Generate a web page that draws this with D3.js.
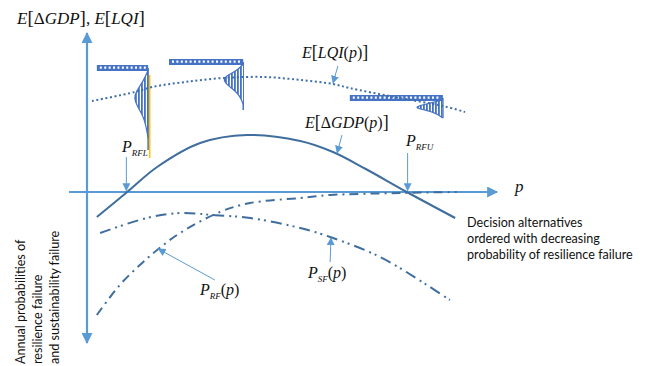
<!DOCTYPE html>
<html lang="en">
<head>
<meta charset="UTF-8"/>
<title>Resilience and sustainability failure</title>
<script src="https://d3js.org/d3.v7.min.js"></script>
<style>
  body { margin: 0; background: #fff; }
  .math { font-family: "Liberation Serif", "Times New Roman", serif; font-size: 16px; fill: #111; }
  .note { font-family: Lato, "Open Sans", sans-serif; font-size: 12.6px; fill: #111; }
</style>
</head>
<body>
<script>
var w = 646;
var h = 366;

// decision alternatives p (0..100 along the horizontal axis)
var lqiP   = [1.2, 11.7, 15.9, 23.9, 33.2, 43.4, 52, 60, 64, 75, 86.8, 92.2];
var lqiVal = [0.91, 1.00, 1.05, 1.10, 1.14, 1.15, 1.12, 1.08, 1.04, 0.95, 0.86, 0.80];

var gdpP   = [2.4, 9.8, 17.1, 27.6, 39, 52, 60, 68, 78, 89.8];
var gdpVal = [-0.25, 0, 0.25, 0.49, 0.57, 0.51, 0.40, 0.23, 0, -0.26];

var rfP   = [2.4, 8, 12.9, 17.1, 22.7, 32.4, 39.8, 52, 59.3, 76.3, 90.2];
var rfVal = [-1.23, -0.93, -0.73, -0.58, -0.41, -0.20, -0.11, -0.06, -0.03, -0.01, 0];

var sfP   = [3.2, 14.6, 22.7, 30.7, 39.8, 52, 59.3, 71.5, 82.9, 88.5];
var sfVal = [-0.41, -0.26, -0.21, -0.23, -0.26, -0.36, -0.45, -0.65, -0.93, -1.08];

// LQI distributions drawn at three alternatives
var glyphAt      = [14.9, 38.1, 86.8];
var glyphBarFrom = [2.4, 20, 64.1];
var glyphBarY    = [1.24, 1.30, 0.94];
var glyphLineEnd = [0.42, 0.82, 0.74];
var glyphShapeP = [
    [14.9, 13.9, 11.9, 11.5, 12.2, 13.7, 14.4, 14.9],
    [38.1, 36.8, 34.4, 33.2, 33.9, 35.9, 37.3, 38.1],
    [86.8, 83.7, 80.7, 80.2, 82.4, 85.1, 86.8]
];
var glyphShapeV = [
    [1.22, 1.12, 1.00, 0.94, 0.86, 0.76, 0.66, 0.54],
    [1.28, 1.22, 1.17, 1.13, 1.08, 1.02, 0.96, 0.88],
    [0.92, 0.89, 0.86, 0.84, 0.82, 0.79, 0.74]
];

var pRFL = 9.6;
var pRFU = 78.2;

var xScale = d3.scaleLinear().domain([0, 100]).range([87, 497]);
var yScale = d3.scaleLinear().domain([-1.5, 1.6]).range([342, 32]);

var svg = d3.select("body")
    .append("svg")
    .attr("width", w)
    .attr("height", h);

var defs = svg.append("defs");
defs.append("marker")
    .attr("id", "axisHead")
    .attr("viewBox", "0 0 10 10")
    .attr("refX", 9).attr("refY", 5)
    .attr("markerWidth", 5.5).attr("markerHeight", 5)
    .attr("markerUnits", "strokeWidth")
    .attr("orient", "auto")
    .append("path").attr("d", "M0,0 L10,5 L0,10 z").attr("fill", "#5b9bd5");
defs.append("marker")
    .attr("id", "noteHead")
    .attr("viewBox", "0 0 10 10")
    .attr("refX", 9).attr("refY", 5)
    .attr("markerWidth", 8).attr("markerHeight", 8)
    .attr("markerUnits", "strokeWidth")
    .attr("orient", "auto")
    .append("path").attr("d", "M0,0 L10,5 L0,10 z").attr("fill", "#5b9bd5");
var pat = defs.append("pattern")
    .attr("id", "stripes")
    .attr("patternUnits", "userSpaceOnUse")
    .attr("width", 3).attr("height", 10);
pat.append("rect").attr("width", 3).attr("height", 10).attr("fill", "#fff");
pat.append("rect").attr("width", 1.8).attr("height", 10).attr("fill", "#4472c4");

// axes
svg.append("line")
    .attr("x1", xScale(-4.4)).attr("x2", xScale(100))
    .attr("y1", yScale(0)).attr("y2", yScale(0))
    .attr("stroke", "#5b9bd5").attr("stroke-width", 2.2)
    .attr("marker-end", "url(#axisHead)");
svg.append("line")
    .attr("x1", xScale(0)).attr("x2", xScale(0))
    .attr("y1", yScale(0)).attr("y2", yScale(1.59))
    .attr("stroke", "#5b9bd5").attr("stroke-width", 2.2)
    .attr("marker-end", "url(#axisHead)");
svg.append("line")
    .attr("x1", xScale(0)).attr("x2", xScale(0))
    .attr("y1", yScale(0)).attr("y2", yScale(-1.51))
    .attr("stroke", "#5b9bd5").attr("stroke-width", 2.2)
    .attr("marker-end", "url(#axisHead)");

var line = d3.line()
    .x(function (d) { return xScale(d[0]); })
    .y(function (d) { return yScale(d[1]); })
    .curve(d3.curveCatmullRom.alpha(0.5));

function pairs(ps, vs) {
    return ps.map(function (p, i) { return [p, vs[i]]; });
}

// distribution glyphs
glyphAt.forEach(function (p, i) {
    var g = svg.append("g");
    if (i == 0) {
        g.append("line")
            .attr("x1", xScale(p) + 1.6).attr("x2", xScale(p) + 1.6)
            .attr("y1", yScale(1.17)).attr("y2", yScale(0.34))
            .attr("stroke", "#ffc000").attr("stroke-width", 1.5);
    }
    g.append("line")
        .attr("x1", xScale(p)).attr("x2", xScale(p))
        .attr("y1", yScale(glyphBarY[i])).attr("y2", yScale(glyphLineEnd[i]))
        .attr("stroke", "#4472c4").attr("stroke-width", 1.5);
    g.append("path")
        .attr("d", d3.line()
            .x(function (d) { return xScale(d[0]); })
            .y(function (d) { return yScale(d[1]); })
            .curve(d3.curveBasis)(pairs(glyphShapeP[i], glyphShapeV[i])))
        .attr("fill", "url(#stripes)")
        .attr("stroke", "#4472c4").attr("stroke-width", 1.2);
    g.append("rect")
        .attr("x", xScale(glyphBarFrom[i]))
        .attr("y", yScale(glyphBarY[i]) - 3)
        .attr("width", xScale(p) - xScale(glyphBarFrom[i]))
        .attr("height", 6)
        .attr("fill", "#4472c4");
    g.append("line")
        .attr("x1", xScale(glyphBarFrom[i]) + 3).attr("x2", xScale(p) - 2)
        .attr("y1", yScale(glyphBarY[i]) - 0.3).attr("y2", yScale(glyphBarY[i]) - 0.3)
        .attr("stroke", "#fff").attr("stroke-width", 2.2)
        .attr("stroke-dasharray", "2 2.4");
});

// curves
svg.append("path")
    .attr("d", line(pairs(lqiP, lqiVal)))
    .attr("fill", "none").attr("stroke", "#3e6fa8").attr("stroke-width", 2)
    .attr("stroke-dasharray", "2 2.6");
svg.append("path")
    .attr("d", line(pairs(gdpP, gdpVal)))
    .attr("fill", "none").attr("stroke", "#3f6e9e").attr("stroke-width", 2);
svg.append("path")
    .attr("d", line(pairs(rfP, rfVal)))
    .attr("fill", "none").attr("stroke", "#3f6e9e").attr("stroke-width", 2)
    .attr("stroke-dasharray", "9 5 2 5");
svg.append("path")
    .attr("d", line(pairs(sfP, sfVal)))
    .attr("fill", "none").attr("stroke", "#3f6e9e").attr("stroke-width", 2)
    .attr("stroke-dasharray", "11 5 2 4 2 5");

// annotation arrows
function note(p1, v1, p2, v2) {
    svg.append("line")
        .attr("x1", xScale(p1)).attr("y1", yScale(v1))
        .attr("x2", xScale(p2)).attr("y2", yScale(v2))
        .attr("stroke", "#5b9bd5").attr("stroke-width", 1)
        .attr("marker-end", "url(#noteHead)");
}
note(61.2, 1.26, 60, 1.09);
note(62.2, 0.57, 61, 0.39);
note(pRFL, 0.35, pRFL, 0.015);
note(pRFU, 0.39, pRFU, 0.015);
note(59.3, -0.70, 59.5, -0.46);
note(31.2, -0.88, 17.4, -0.57);

// math labels
function mathLabel(x, y, parts) {
    var t = svg.append("text").attr("class", "math").attr("x", x).attr("y", y);
    parts.forEach(function (q) {
        var s = t.append("tspan").text(q[0]);
        if (q[1] == "i") s.attr("font-style", "italic");
        if (q[1] == "sub") s.attr("font-style", "italic").attr("font-size", 9).attr("dy", 4);
        if (q[2]) s.attr("dy", q[2]);
        if (q[3]) s.attr("font-size", q[3]);
    });
    return t;
}
mathLabel(17, 24, [["E", "i", 0, 17], ["[", "", 0, 19], ["Δ", "", 0, 17], ["GDP", "i", 0, 17], ["]", "", 0, 19], [", ", "", 0, 17], ["E", "i", 0, 17], ["[", "", 0, 19], ["LQI", "i", 0, 17], ["]", "", 0, 19]]);
mathLabel(302, 58, [["E", "i"], ["[", "", 0, 18], ["LQI", "i"], ["(", ""], ["p", "i"], [")", ""], ["]", "", 0, 18]]);
mathLabel(305, 128, [["E", "i"], ["[", "", 0, 18], ["Δ", ""], ["GDP", "i"], ["(", ""], ["p", "i"], [")", ""], ["]", "", 0, 18]]);
mathLabel(122, 152, [["P", "i"], ["RFL", "sub"]]);
mathLabel(406, 146, [["P", "i"], ["RFU", "sub"]]);
mathLabel(308, 278, [["P", "i"], ["SF", "sub"], ["(", "", -4], ["p", "i"], [")", ""]]);
mathLabel(200, 295, [["P", "i"], ["RF", "sub"], ["(", "", -4], ["p", "i"], [")", ""]]);
mathLabel(515, 192, [["p", "i", 0, 17]]);

// side notes
var side = ["Annual probabilities of", "resilience failure", "and sustainability failure"];
svg.selectAll("text.side")
    .data(side)
    .enter()
    .append("text")
    .attr("class", "note side")
    .attr("transform", function (d, i) {
        return "translate(" + (25 + i * 17) + ",364) rotate(-90)";
    })
    .text(function (d) { return d; });

var decision = ["Decision alternatives", "ordered with decreasing", "probability of resilience failure"];
svg.selectAll("text.dec")
    .data(decision)
    .enter()
    .append("text")
    .attr("class", "note dec")
    .attr("x", 467)
    .attr("y", function (d, i) { return 227 + i * 16; })
    .text(function (d) { return d; });
</script>
</body>
</html>
